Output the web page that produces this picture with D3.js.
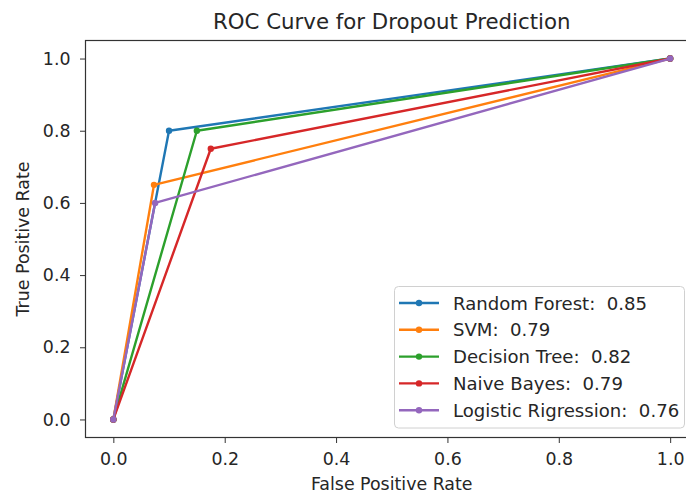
<!DOCTYPE html>
<html><head><meta charset="utf-8">
<script src="https://cdn.jsdelivr.net/npm/d3@7"></script>
<style>
html,body{margin:0;padding:0;background:#fff;}
svg{display:block;font-family:"DejaVu Sans",sans-serif;}
</style></head>
<body>
<svg id="chart" width="686" height="495"></svg>
<script>
const seriesNames = ["Random Forest", "SVM", "Decision Tree", "Naive Bayes", "Logistic Rigression"];
const aucLabels = ["0.85", "0.79", "0.82", "0.79", "0.76"];
const fprValues = [
  [0, 0.10, 1],
  [0, 0.073, 1],
  [0, 0.15, 1],
  [0, 0.175, 1],
  [0, 0.075, 1]
];
const tprValues = [
  [0, 0.80, 1],
  [0, 0.65, 1],
  [0, 0.80, 1],
  [0, 0.75, 1],
  [0, 0.60, 1]
];
const colors = ["#1f77b4", "#ff7f0e", "#2ca02c", "#d62728", "#9467bd"];
const xTicks = [0, 0.2, 0.4, 0.6, 0.8, 1.0];
const yTicks = [0, 0.2, 0.4, 0.6, 0.8, 1.0];

const svg = d3.select("#chart");
const L = 85.5, R = 698, T = 40.5, B = 437.5;
const x = d3.scaleLinear().domain([-0.05, 1.05]).range([L, R]);
const y = d3.scaleLinear().domain([-0.05, 1.05]).range([B, T]);
const FS = 17.4;

const g = svg.append("g");

const xAxis = d3.axisBottom(x).tickValues(xTicks).tickFormat(d3.format(".1f")).tickSize(5.5).tickPadding(9.5);
const yAxis = d3.axisLeft(y).tickValues(yTicks).tickFormat(d3.format(".1f")).tickSize(5.5).tickPadding(9.5);

const gx = g.append("g").attr("transform", `translate(0,${B})`).call(xAxis);
const gy = g.append("g").attr("transform", `translate(${L},0)`).call(yAxis);
[gx, gy].forEach(a => {
  a.select(".domain").remove();
  a.selectAll("text").attr("font-family", "DejaVu Sans").attr("font-size", FS).attr("fill", "#262626");
  a.selectAll("line").attr("stroke", "#333").attr("stroke-width", 1);
});

// lines
const line = d3.line().x(d => x(d[0])).y(d => y(d[1]));
seriesNames.forEach((name, i) => {
  const pts = fprValues[i].map((f, j) => [f, tprValues[i][j]]);
  g.append("path").datum(pts).attr("d", line)
    .attr("fill", "none").attr("stroke", colors[i]).attr("stroke-width", 2.4)
    .attr("stroke-linejoin", "round");
  g.selectAll(null).data(pts).enter().append("circle")
    .attr("cx", d => x(d[0])).attr("cy", d => y(d[1])).attr("r", 3.2)
    .attr("fill", colors[i]);
});

// spines
g.append("rect").attr("x", L).attr("y", T).attr("width", R - L).attr("height", B - T)
  .attr("fill", "none").attr("stroke", "#333").attr("stroke-width", 1.2);

// title & labels
svg.append("text").attr("x", (L + R) / 2).attr("y", 29).attr("text-anchor", "middle")
  .attr("font-size", 21.3).attr("fill", "#262626").text("ROC Curve for Dropout Prediction");
svg.append("text").attr("x", (L + R) / 2).attr("y", 490).attr("text-anchor", "middle")
  .attr("font-size", FS).attr("fill", "#262626").text("False Positive Rate");
svg.append("text").attr("transform", `translate(29,${(T + B) / 2}) rotate(-90)`).attr("text-anchor", "middle")
  .attr("font-size", FS).attr("fill", "#262626").text("True Positive Rate");

// legend
const lg = svg.append("g");
lg.append("rect").attr("x", 394.5).attr("y", 286.5).attr("width", 290).attr("height", 141.5)
  .attr("rx", 4).attr("fill", "#fff").attr("fill-opacity", 0.85).attr("stroke", "#d0d0d0");
seriesNames.forEach((name, i) => {
  const cy = 303 + i * 26.8;
  lg.append("line").attr("x1", 399).attr("x2", 439).attr("y1", cy).attr("y2", cy)
    .attr("stroke", colors[i]).attr("stroke-width", 2.4);
  lg.append("circle").attr("cx", 419).attr("cy", cy).attr("r", 3.2).attr("fill", colors[i]);
  lg.append("text").attr("x", 453).attr("y", cy).attr("dy", "0.36em")
    .attr("font-size", 18.1).attr("fill", "#262626").attr("xml:space", "preserve")
    .style("white-space", "pre")
    .text(name + ":  " + aucLabels[i]);
});
</script>
</body></html>
